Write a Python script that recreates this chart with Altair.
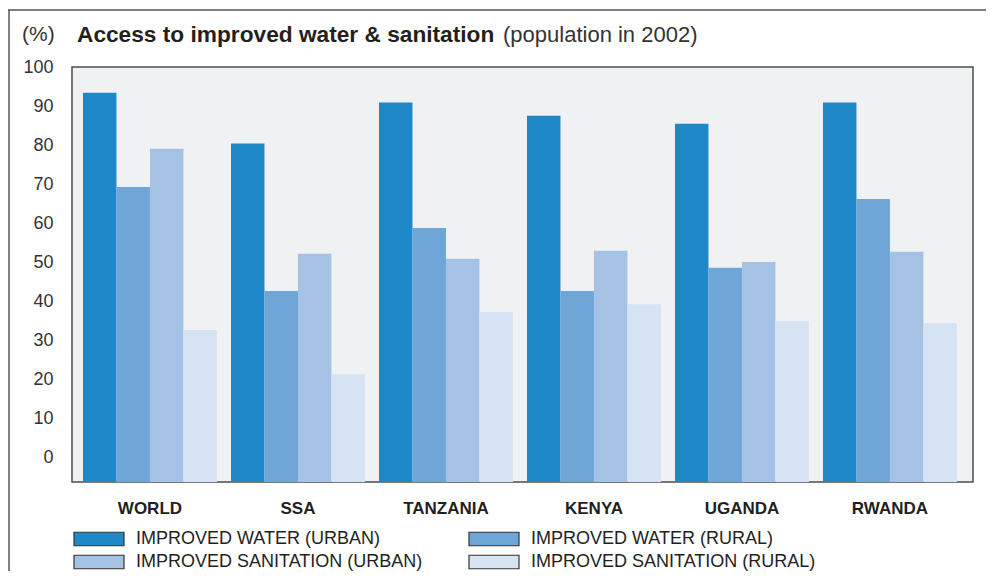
import altair as alt
import pandas as pd

regions = ["WORLD", "SSA", "TANZANIA", "KENYA", "UGANDA", "RWANDA"]
series = [
    "IMPROVED WATER (URBAN)",
    "IMPROVED WATER (RURAL)",
    "IMPROVED SANITATION (URBAN)",
    "IMPROVED SANITATION (RURAL)",
]
water_urban = [93.4, 80.4, 90.9, 87.5, 85.5, 90.9]
water_rural = [69.3, 42.7, 58.8, 42.7, 48.6, 66.2]
san_urban = [79.1, 52.2, 50.9, 53.0, 50.1, 52.7]
san_rural = [32.7, 21.4, 37.3, 39.3, 35.0, 34.5]
colors = ["#1e88c9", "#70a5d7", "#a5c2e5", "#d5e3f2"]
y_ticks = list(range(0, 101, 10))

rows = []
for vals, s in zip([water_urban, water_rural, san_urban, san_rural], series):
    for r, v in zip(regions, vals):
        rows.append({"region": r, "series": s, "value": v})
df = pd.DataFrame(rows)

W, H = 901, 415
YMIN = -6.2
PAD_R, PAD_B = 13, 89

bars = alt.Chart(df).mark_bar().encode(
    x=alt.X("region:N", sort=regions,
            scale=alt.Scale(paddingInner=0.095, paddingOuter=0.0915, align=0.406),
            axis=alt.Axis(title=None, ticks=False, domain=False, labelAngle=0,
                          labelFontSize=17, labelFontWeight="bold", labelPadding=18,
                          labelColor="#231f20", labelFont="Liberation Sans")),
    xOffset=alt.XOffset("series:N", sort=series),
    y=alt.Y("value:Q", scale=alt.Scale(domain=[YMIN, 100], nice=False, zero=False),
            axis=alt.Axis(values=y_ticks, title=None, ticks=False, domain=False, grid=False,
                          labelFontSize=18, labelColor="#333333", labelPadding=19,
                          labelFont="Liberation Sans")),
    y2=alt.datum(YMIN),
    color=alt.Color("series:N", sort=series,
                    scale=alt.Scale(domain=series, range=colors),
                    legend=alt.Legend(
                        title=None, orient="none", legendX=1, legendY=464,
                        direction="horizontal", columns=2, padding=0,
                        symbolType="M-1,-0.27H1V0.27H-1Z", symbolSize=2500,
                        symbolStrokeColor="#333333", symbolStrokeWidth=1.2,
                        symbolOpacity=1, clipHeight=16, labelLimit=500,
                        labelFont="Liberation Sans", labelFontSize=18,
                        labelColor="#231f20", labelOffset=11,
                        columnPadding=45, rowPadding=5)),
)

title_df = pd.DataFrame([{"t": "x"}])
pct = alt.Chart(title_df).mark_text(
    text="(%)", align="left", baseline="middle", fontSize=21,
    font="Liberation Sans", color="#333333"
).encode(x=alt.value(-50), y=alt.value(-32))
title_bold = alt.Chart(title_df).mark_text(
    text="Access to improved water & sanitation", align="left", baseline="middle",
    fontSize=22.7, fontWeight="bold", font="Liberation Sans", color="#231f20"
).encode(x=alt.value(5), y=alt.value(-32))
title_norm = alt.Chart(title_df).mark_text(
    text="(population in 2002)", align="left", baseline="middle",
    fontSize=22, font="Liberation Sans", color="#333333"
).encode(x=alt.value(431), y=alt.value(-32))

frame_top = alt.Chart(title_df).mark_rule(color="#555555", strokeWidth=1.5).encode(
    x=alt.value(-64), x2=alt.value(W + PAD_R), y=alt.value(-57))
frame_left = alt.Chart(title_df).mark_rule(color="#555555", strokeWidth=1.5).encode(
    x=alt.value(-63), y=alt.value(-57), y2=alt.value(H + PAD_B))

chart = alt.layer(bars, pct, title_bold, title_norm, frame_top, frame_left).properties(
    width=W, height=H,
    autosize=alt.AutoSizeParams(type="none"),
    padding={"left": 64, "top": 59, "right": PAD_R, "bottom": PAD_B},
    background="white",
).configure_view(fill="#f0f1f3", stroke="#4d4d4d", strokeWidth=1.5)

chart.save("out.html", embed_options={"renderer": "svg", "actions": False})
